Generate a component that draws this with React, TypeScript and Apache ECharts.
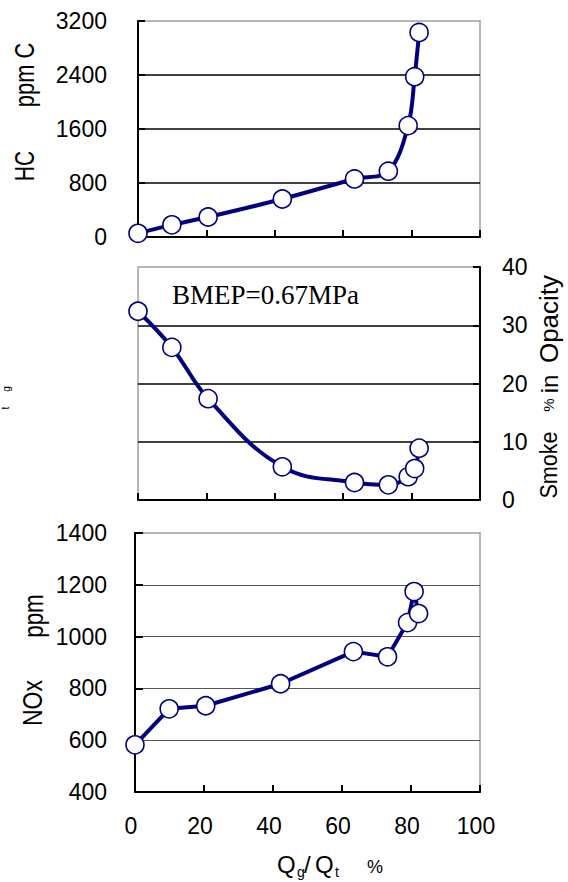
import React, { useEffect, useRef } from "react";
import * as echarts from "echarts";

// Gas fraction Qg/Qt (%)
const qRatio = [0, 9.9, 20.5, 42.2, 63.3, 73.2, 79.0, 80.9, 82.2];
// HC (ppm C)
const hcValues = [55, 180, 296, 563, 860, 975, 1650, 2375, 3030];
// Smoke (% in opacity)
const smokeValues = [32.4, 26.2, 17.4, 5.7, 3.0, 2.6, 4.0, 5.4, 8.9];
// NOx (ppm)
const noxValues = [582, 721, 733, 818, 942, 922, 1054, 1174, 1089];

const xTicks = { min: 0, max: 100, interval: 20 };
const hcAxis = { min: 0, max: 3200, interval: 800 };
const smokeAxis = { min: 0, max: 40, interval: 10 };
const noxAxis = { min: 400, max: 1400, interval: 200 };

const NAVY = "#000080";
const FONT = "'Liberation Sans', Arial, sans-serif";

export default function App() {
  const ref = useRef<HTMLDivElement>(null);
  useEffect(() => {
    if (!ref.current) return;
    const chart = echarts.init(ref.current, undefined, { renderer: "svg" });
    const pair = (ys: number[]) => qRatio.map((x, i) => [x, ys[i]]);
    const tick = { show: true, inside: true, length: 7, lineStyle: { color: "#000", width: 2 } };
    const axisLine = { show: true, onZero: false, lineStyle: { color: "#000", width: 2 } };
    const gridBase = { show: true, borderColor: "#a0a0a0", borderWidth: 1.5, backgroundColor: "transparent" };
    const label = (show: boolean, margin: number, extra: any = {}) => ({
      show,
      margin,
      fontSize: 23,
      color: "#000",
      fontFamily: FONT,
      formatter: (v: number) => String(v),
      ...extra,
    });
    const xAxisCommon = (gridIndex: number, showLabel: boolean) => ({
      type: "value",
      gridIndex,
      ...xTicks,
      axisLine,
      axisTick: tick,
      splitLine: { show: false },
      axisLabel: label(showLabel, 22, { padding: [0, 8, 0, 0] }),
    });
    const seriesCommon = (xi: number, ys: number[], smooth: any) => ({
      type: "line",
      xAxisIndex: xi,
      yAxisIndex: xi,
      data: pair(ys),
      smooth,
      clip: false,
      symbol: "circle",
      symbolSize: 18,
      lineStyle: { color: NAVY, width: 4 },
      itemStyle: { color: "#fff", borderColor: NAVY, borderWidth: 1.6 },
    });

    const txt = (text: string, x: number, y: number, fontSize: number, opts: any = {}) => ({
      type: "text",
      x,
      y,
      rotation: opts.rotation ?? 0,
      scaleX: opts.scaleX ?? 1,
      scaleY: opts.scaleY ?? 1,
      style: {
        text,
        fontSize,
        fontFamily: opts.fontFamily ?? FONT,
        fill: "#000",
        align: opts.align ?? "center",
        verticalAlign: "middle",
      },
    });
    const R = Math.PI / 2;

    chart.setOption({
      animation: false,
      backgroundColor: "#fff",
      grid: [
        { ...gridBase, left: 138, top: 21, width: 342, height: 216 },
        { ...gridBase, left: 138, top: 267, width: 342, height: 233 },
        { ...gridBase, left: 135, top: 533, width: 345, height: 259 },
      ],
      xAxis: [xAxisCommon(0, false), xAxisCommon(1, false), xAxisCommon(2, true)],
      yAxis: [
        {
          type: "value",
          gridIndex: 0,
          ...hcAxis,
          axisLine,
          axisTick: tick,
          axisLabel: label(true, 31),
          splitLine: { show: true, showMinLine: false, showMaxLine: false, lineStyle: { color: "#000", width: 1.5 } },
        },
        {
          type: "value",
          gridIndex: 1,
          position: "right",
          ...smokeAxis,
          axisLine,
          axisTick: tick,
          axisLabel: label(true, 22),
          splitLine: { show: true, showMinLine: false, showMaxLine: false, lineStyle: { color: "#000", width: 1.5 } },
        },
        {
          type: "value",
          gridIndex: 2,
          ...noxAxis,
          axisLine,
          axisTick: { ...tick, length: 8 },
          axisLabel: label(true, 28),
          splitLine: { show: true, showMinLine: false, showMaxLine: false, lineStyle: { color: "#555", width: 1 } },
        },
      ],
      series: [
        seriesCommon(0, hcValues, 0.35),
        seriesCommon(1, smokeValues, 0.4),
        seriesCommon(2, noxValues, false),
      ],
      graphic: [
        txt("HC", 24, 166, 28, { rotation: R, scaleX: 0.75 }),
        txt("ppm C", 24, 75, 28, { rotation: R, scaleX: 0.78 }),
        txt("NOx", 32, 703, 28, { rotation: R, scaleX: 0.82 }),
        txt("ppm", 33, 616, 28, { rotation: R, scaleX: 0.8 }),
        txt("Smoke", 549, 465, 24, { rotation: R, scaleX: 0.9 }),
        txt("%", 548, 405, 15, { rotation: R }),
        txt("in", 549, 384, 24, { rotation: R }),
        txt("Opacity", 549, 319, 26, { rotation: R }),
        txt("BMEP=0.67MPa", 172, 295, 27, { align: "left", fontFamily: "'Liberation Serif', 'Times New Roman', serif" }),
        txt("Q", 277, 864, 24, { align: "left" }),
        txt("g", 297, 872, 14, { align: "left" }),
        txt("/", 304, 864, 24, { align: "left" }),
        txt("Q", 315, 864, 24, { align: "left" }),
        txt("t", 335, 872, 14, { align: "left" }),
        txt("%", 367, 867, 18, { align: "left" }),
        txt("g", 6, 389, 10, { rotation: R }),
        txt("t", 5, 408, 10, { rotation: R }),
      ],
    });
    return () => chart.dispose();
  }, []);
  return (
    <div
      ref={ref}
      style={{ position: "fixed", left: 0, top: 0, width: 568, height: 882, background: "#fff" }}
    />
  );
}
